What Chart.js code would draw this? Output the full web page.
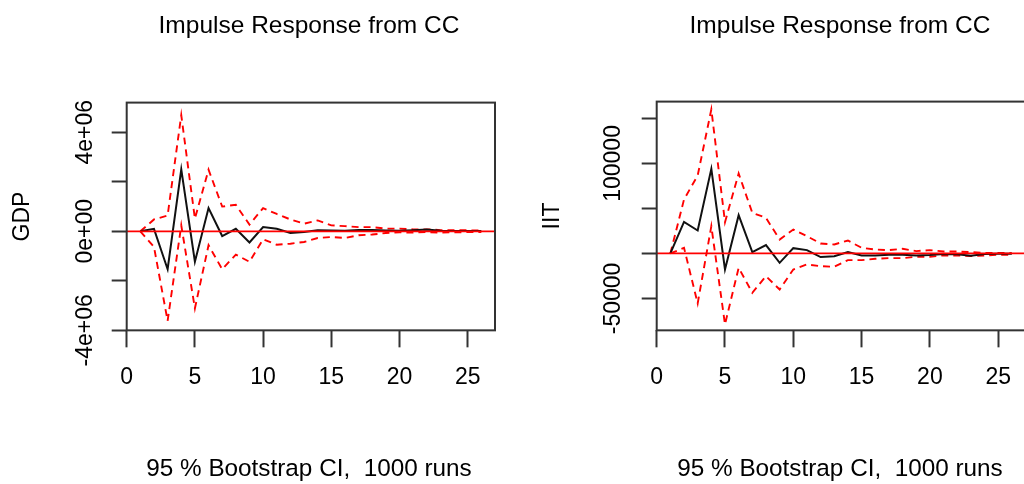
<!DOCTYPE html>
<html>
<head>
<meta charset="utf-8">
<script src="https://cdn.jsdelivr.net/npm/chart.js@4.4.0/dist/chart.umd.min.js"></script>
<style>
  html, body { margin: 0; padding: 0; background: #fff; overflow: hidden; width: 1024px; height: 484px; }
  body { position: relative; }
  canvas { position: absolute; top: 0; }
  #gdp { left: 0; }
  #iit { left: 520px; }
</style>
</head>
<body>
<canvas id="gdp" width="618" height="484"></canvas>
<canvas id="iit" width="640" height="484"></canvas>
<script>
// impulse response horizon (R plots steps 0..25 at x = 1..26)
const horizon = [1,2,3,4,5,6,7,8,9,10,11,12,13,14,15,16,17,18,19,20,21,22,23,24,25,26];
const xTicks = [0, 5, 10, 15, 20, 25];

// response of GDP to a CC shock
const gdpIrf   = [0, 0.10e6, -1.53e6, 2.50e6, -1.23e6, 0.94e6, -0.19e6, 0.10e6, -0.45e6, 0.17e6, 0.10e6, -0.07e6, -0.03e6,
                  0.04e6, 0.03e6, 0.02e6, 0.05e6, 0.05e6, 0.03e6, 0.02e6, 0.04e6, 0.07e6, 0.02e6, 0.01e6, 0.01e6, 0.01e6];
const gdpUpper = [0, 0.48e6, 0.64e6, 4.69e6, 0.51e6, 2.49e6, 1.00e6, 1.07e6, 0.27e6, 0.94e6, 0.70e6, 0.48e6, 0.31e6,
                  0.44e6, 0.24e6, 0.21e6, 0.17e6, 0.17e6, 0.11e6, 0.11e6, 0.08e6, 0.08e6, 0.05e6, 0.05e6, 0.04e6, 0.04e6];
const gdpLower = [0, -0.63e6, -3.62e6, 0.24e6, -3.11e6, -0.56e6, -1.53e6, -0.94e6, -1.23e6, -0.32e6, -0.54e6, -0.50e6, -0.43e6,
                  -0.27e6, -0.23e6, -0.27e6, -0.16e6, -0.13e6, -0.07e6, -0.04e6, -0.05e6, -0.03e6, -0.05e6, -0.04e6, -0.03e6, -0.03e6];
const gdpTicks = [-4e6, -2e6, 0, 2e6, 4e6];
const gdpTickLabels = { '4000000': '4e+06', '0': '0e+00', '-4000000': '-4e+06' };

// response of IIT to a CC shock
const iitIrf   = [0, 35100, 25500, 94000, -17800, 42500, 1500, 9250, -10400, 5900, 3700, -4000, -3000,
                  1500, -2200, -2200, -1500, -1500, -2200, -1800, -700, -1000, -2600, -700, -400, -400];
const iitUpper = [0, 60000, 86600, 160000, 34800, 88800, 45100, 39600, 15500, 26600, 19200, 11100, 10000,
                  14400, 6300, 4400, 3700, 5200, 2600, 3700, 2200, 2200, 1500, 700, 700, 400];
const iitLower = [0, 6300, -55500, 30300, -78800, -15900, -43700, -25200, -40000, -17800, -12200, -14100, -14800,
                  -7400, -7400, -5900, -5200, -5200, -3700, -3700, -2200, -2200, -3000, -2200, -1500, -1500];
const iitTicks = [-50000, 0, 50000, 100000, 150000];
const iitTickLabels = { '100000': '100000', '-50000': '-50000' };

const FONT = '"Liberation Sans", Arial, Helvetica, sans-serif';
const AXIS = '#333';

function pts(ys) { return horizon.map((x, i) => ({ x, y: ys[i] })); }

// R-like decorations: box, zero line, rotated y tick labels
const rStyle = {
  id: 'rStyle',
  afterDatasetsDraw(chart, args, o) {
    const { ctx, chartArea: a } = chart;
    const y0 = chart.scales.y.getPixelForValue(0);
    ctx.save();
    ctx.strokeStyle = 'red';
    ctx.lineWidth = 1.8;
    ctx.beginPath();
    ctx.moveTo(a.left, y0);
    ctx.lineTo(a.right, y0);
    ctx.stroke();
    ctx.strokeStyle = AXIS;
    ctx.lineWidth = 2;
    ctx.strokeRect(a.left, a.top, a.right - a.left, a.bottom - a.top);
    ctx.restore();
  },
  afterDraw(chart, args, o) {
    const { ctx } = chart;
    const ys = chart.scales.y;
    ctx.save();
    ctx.font = '23px ' + FONT;
    ctx.fillStyle = '#000';
    ctx.textAlign = 'center';
    ctx.textBaseline = 'alphabetic';
    Object.keys(o.labels).forEach(v => {
      const py = ys.getPixelForValue(Number(v));
      ctx.save();
      ctx.translate(o.labelX, py);
      ctx.rotate(-Math.PI / 2);
      ctx.fillText(o.labels[v], 0, 0);
      ctx.restore();
    });
    ctx.restore();
  }
};

function buildPanel(canvas, cfg) {
  return new Chart(canvas.getContext('2d'), {
    type: 'line',
    data: {
      datasets: [
        { data: pts(cfg.irf), borderColor: '#111', borderWidth: 2 },
        { data: pts(cfg.upper), borderColor: 'red', borderWidth: 1.9, borderDash: [7, 5] },
        { data: pts(cfg.lower), borderColor: 'red', borderWidth: 1.9, borderDash: [7, 5] }
      ]
    },
    options: {
      responsive: false,
      animation: false,
      elements: { point: { radius: 0 }, line: { tension: 0, fill: false } },
      layout: { padding: 0 },
      plugins: {
        legend: { display: false },
        tooltip: { enabled: false },
        title: {
          display: true, text: 'Impulse Response from CC', color: '#000',
          font: { family: FONT, size: 24.5, weight: 'normal' },
          padding: { top: 12, bottom: cfg.titleGap }
        },
        subtitle: {
          display: true, position: 'bottom', text: '95 % Bootstrap CI,  1000 runs', color: '#000',
          font: { family: FONT, size: 24.3, weight: 'normal' },
          padding: { top: 10, bottom: 0 }
        },
        rStyle: { labels: cfg.tickLabels, labelX: cfg.labelX }
      },
      scales: {
        x: {
          type: 'linear', min: 0, max: 27,
          afterBuildTicks: s => { s.ticks = xTicks.map(v => ({ value: v })); },
          afterFit: s => { s.height = 114.5; },
          ticks: { color: '#000', font: { family: FONT, size: 23 }, padding: 16.5, maxRotation: 0 },
          grid: { drawOnChartArea: false, tickLength: 17, tickWidth: 2, tickColor: AXIS },
          border: { display: false }
        },
        y: {
          type: 'linear', min: cfg.yMin, max: cfg.yMax,
          afterBuildTicks: s => { s.ticks = cfg.yTicks.map(v => ({ value: v })); },
          afterFit: s => { s.width = cfg.yWidth; },
          ticks: { display: false },
          grid: { drawOnChartArea: false, tickLength: 15, tickWidth: 2, tickColor: AXIS },
          border: { display: false },
          title: {
            display: true, text: cfg.yTitle, color: '#000',
            font: { family: FONT, size: 23 },
            padding: { top: cfg.yTitlePad, bottom: 0 }
          }
        },
        // empty right margin so title and subtitle stay centred over the plot
        margin: {
          type: 'linear', position: 'right', min: 0, max: 1,
          afterFit: s => { s.width = cfg.rightMargin; },
          ticks: { display: false },
          grid: { display: false },
          border: { display: false }
        }
      }
    },
    plugins: [rStyle]
  });
}

buildPanel(document.getElementById('gdp'), {
  irf: gdpIrf, upper: gdpUpper, lower: gdpLower,
  yMin: -4.0e6, yMax: 5.2e6, yTicks: gdpTicks, tickLabels: gdpTickLabels,
  yTitle: 'GDP', yTitlePad: 8.7, yWidth: 126.7, rightMargin: 123, titleGap: 61.2, labelX: 91.7
});

buildPanel(document.getElementById('iit'), {
  irf: iitIrf, upper: iitUpper, lower: iitLower,
  yMin: -85400, yMax: 168700, yTicks: iitTicks, tickLabels: iitTickLabels,
  yTitle: 'IIT', yTitlePad: 18.7, yWidth: 136.7, rightMargin: 134.5, titleGap: 60.2, labelX: 100
});
</script>
</body>
</html>
